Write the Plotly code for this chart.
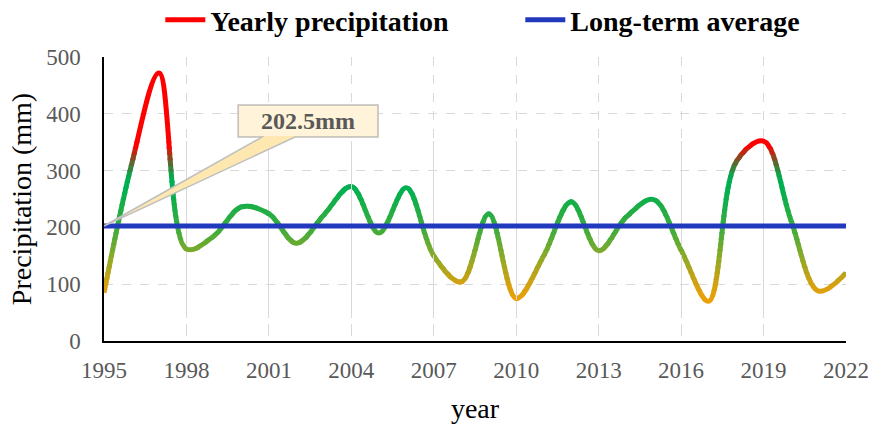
import plotly.graph_objects as go

# ---------------- data ----------------
years = list(range(1995, 2023))
precip = [85, 310, 472, 162, 185, 236, 224, 172, 222, 272, 190, 270, 150, 104,
          224, 75, 150, 245, 159, 218, 249, 160, 70, 315, 352, 212, 88, 120]
avg_value = 202.5
avg_line = [avg_value] * len(years)

series_name = "Yearly precipitation"
avg_name = "Long-term average"
x_ticks = list(range(1995, 2023, 3))
y_ticks = [0, 100, 200, 300, 400, 500]

# ---------------- styles ----------------
FONT = "Liberation Serif, Times New Roman, serif"
GRAY = "#595959"
Y_MAX = 500
# value-based colour stops of the gradient line
color_stops = [(0, (245, 160, 0)), (60, (245, 160, 0)), (100, (215, 160, 15)),
               (150, (140, 170, 40)), (200, (60, 172, 60)), (270, (0, 176, 80)),
               (290, (0, 176, 80)), (320, (110, 90, 40)), (345, (255, 0, 0)),
               (500, (255, 0, 0))]
band_edges = [0, 60] + list(range(70, 351, 10)) + [500]


def color_at(v):
    for (v0, c0), (v1, c1) in zip(color_stops[:-1], color_stops[1:]):
        if v0 <= v <= v1:
            t = 0 if v1 == v0 else (v - v0) / (v1 - v0)
            r, g, b = (round(c0[i] + (c1[i] - c0[i]) * t) for i in range(3))
            return f"rgb({r},{g},{b})"
    return "rgb(255,0,0)"


fig = go.Figure()
layout_axes = {}

# legend entry for the gradient series
fig.add_trace(go.Scatter(x=[None], y=[None], mode="lines", name=series_name,
                         line=dict(color="#ff0000", width=5)))

# gradient line: same spline drawn in horizontal bands, each clipped to its band
k = 2
for a, b in zip(band_edges[:-1], band_edges[1:]):
    lo, hi = max(0, a - 2), min(Y_MAX, b + 2)
    name = f"yaxis{k}"
    layout_axes[name] = dict(domain=[lo / Y_MAX, hi / Y_MAX], range=[lo, hi],
                             anchor="x", visible=False, showgrid=False,
                             zeroline=False, fixedrange=True, automargin=False)
    fig.add_trace(go.Scatter(x=years, y=precip, xaxis="x", yaxis=f"y{k}",
                             mode="lines", showlegend=False, hoverinfo="skip",
                             line=dict(color=color_at((a + b) / 2), width=5,
                                       shape="spline", smoothing=1)))
    k += 1

# long-term average on top
layout_axes[f"yaxis{k}"] = dict(domain=[0, 1], range=[0, Y_MAX], anchor="x",
                                visible=False, showgrid=False, zeroline=False,
                                automargin=False)
fig.add_trace(go.Scatter(x=years, y=avg_line, xaxis="x", yaxis=f"y{k}",
                         mode="lines", name=avg_name,
                         line=dict(color="#2139bd", width=5)))

# ---------------- callout ----------------
bx0, bx1, by0, by1 = 1999.88, 2004.97, 359, 415.5
wb0, wb1 = 2000.75, 2001.95
tip_x, tip_y = years[0], avg_value
path = (f"M {bx0},{by1} L {bx1},{by1} L {bx1},{by0} L {wb1},{by0} "
        f"L {tip_x},{tip_y} L {wb0},{by0} L {bx0},{by0} Z")
shapes = [
    dict(type="path", path=path, xref="x", yref="y", layer="above",
         fillcolor="#ffe7b0", line=dict(color="#bfbfbf", width=1.5)),
    dict(type="rect", xref="x", yref="y", layer="above",
         x0=bx0 + 0.04, x1=bx1 - 0.04, y0=by0 + 1.8, y1=by1 - 1.8,
         fillcolor="#fff4da", line=dict(width=0)),
]
annotations = [dict(x=(bx0 + bx1) / 2, y=(by0 + by1) / 2, xref="x", yref="y",
                    text=f"{avg_value:.1f}mm", showarrow=False,
                    font=dict(family=FONT, size=24, color=GRAY, weight="bold"))]

fig.update_layout(
    width=873, height=424,
    margin=dict(l=104, r=27, t=57, b=83, autoexpand=False),
    paper_bgcolor="white", plot_bgcolor="rgba(0,0,0,0)",
    font=dict(family=FONT, color="black"),
    showlegend=True,
    legend=dict(orientation="h", xref="container", yref="container",
                x=0.596, xanchor="center", y=0.953, yanchor="middle",
                font=dict(family=FONT, size=28, color="black", weight="bold"),
                bgcolor="rgba(0,0,0,0)", itemwidth=40, entrywidth=305),
    xaxis=dict(range=[1995, 2022], tickvals=x_ticks, showgrid=True,
               gridcolor="#d9d9d9", griddash="dash", gridwidth=1,
               showline=True, linecolor="black", linewidth=1.5,
               zeroline=False, ticks="", ticklabelstandoff=8,
               tickfont=dict(family=FONT, size=23, color=GRAY),
               title=dict(text="year", font=dict(family=FONT, size=28,
                                                 color="black"), standoff=16),
               anchor="y", fixedrange=True, automargin=False),
    yaxis=dict(range=[0, Y_MAX], tickvals=y_ticks, showgrid=True,
               gridcolor="#d9d9d9", griddash="dash", gridwidth=1,
               showline=True, linecolor="black", linewidth=1.5,
               zeroline=False, ticks="", ticklabelstandoff=17,
               tickfont=dict(family=FONT, size=23, color=GRAY),
               title=dict(text="Precipitation (mm)",
                          font=dict(family=FONT, size=28, color="black"),
                          standoff=6),
               domain=[0, 1], anchor="x", fixedrange=True, automargin=False),
    shapes=shapes, annotations=annotations,
    **layout_axes,
)

# remove the default page margin so the figure fills the window exactly
fig.write_html("out.html", config={"displayModeBar": False},
               post_script="document.body.style.margin='0';")
